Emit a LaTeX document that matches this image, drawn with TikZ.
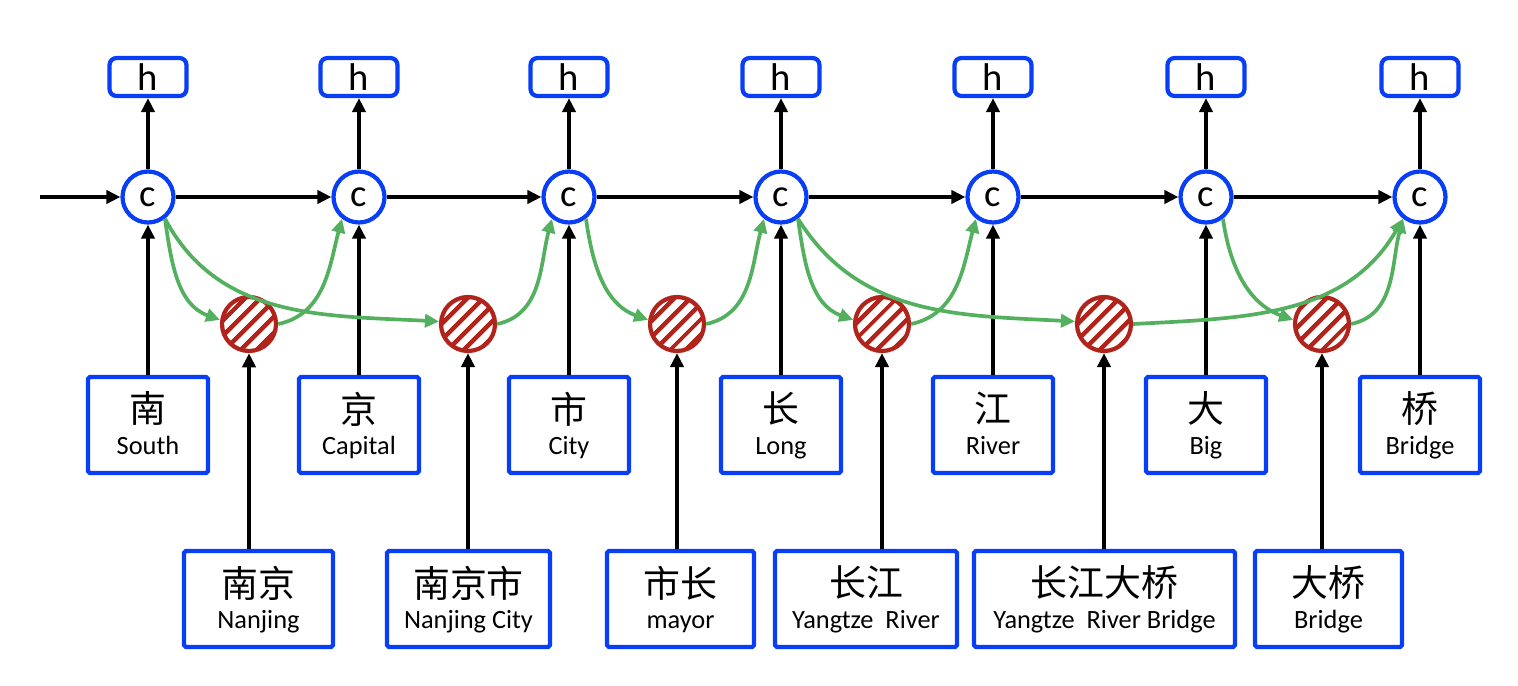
\documentclass[tikz,border=0pt]{standalone}
\usepackage{fontspec}
\setmainfont{Carlito}
\newfontfamily\cjk{Noto Sans CJK SC}
\usetikzlibrary{arrows.meta,patterns.meta}

\definecolor{cellblue}{RGB}{8,62,245}
\definecolor{gatered}{RGB}{176,36,28}
\definecolor{latgreen}{RGB}{82,176,94}

\newcommand{\wordlabel}[2]{{\cjk\fontsize{21}{18}\selectfont #1}\\#2}

\begin{document}
\begin{tikzpicture}[x=0.02cm,y=0.02cm,
  cell/.style={circle,draw=cellblue,line width=2.4pt,minimum size=1.02cm,inner sep=0pt,font=\fontsize{22}{22}\selectfont},
  outbox/.style={draw=cellblue,line width=2.4pt,rounded corners=4pt,minimum width=1.54cm,minimum height=.76cm,inner sep=0pt,font=\fontsize{22}{22}\selectfont},
  wordbox/.style={draw=cellblue,line width=2.4pt,rounded corners=1pt,minimum width=2.4cm,minimum height=1.92cm,inner sep=0pt,align=center,text depth=2pt,font=\fontsize{15}{18}\selectfont},
  gate/.style={circle,draw=gatered,line width=2.4pt,minimum size=1.08cm,inner sep=0pt,
    pattern={Lines[angle=45,distance=6.4pt,line width=2.6pt]},pattern color=gatered},
  flow/.style={line width=2.5pt,-{Triangle[length=8pt,width=7.5pt]}},
  lattice/.style={draw=latgreen,line width=2.1pt,-{Triangle[length=8pt,width=7.5pt]},latgreen}]
\useasboundingbox (0,0) rectangle (1518,-686);

% lattice cells
\node[cell] (c1) at (148,-197) {c};
\node[cell] (c2) at (359,-197) {c};
\node[cell] (c3) at (569,-197) {c};
\node[cell] (c4) at (781,-197) {c};
\node[cell] (c5) at (993,-197) {c};
\node[cell] (c6) at (1206,-197) {c};
\node[cell] (c7) at (1420,-197) {c};

% hidden outputs
\node[outbox] (h1) at (148,-77) {h};
\node[outbox] (h2) at (359,-77) {h};
\node[outbox] (h3) at (569,-77) {h};
\node[outbox] (h4) at (781,-77) {h};
\node[outbox] (h5) at (993,-77) {h};
\node[outbox] (h6) at (1206,-77) {h};
\node[outbox] (h7) at (1420,-77) {h};

% characters
\node[wordbox] (w1) at (148,-425) {\wordlabel{南}{South}};
\node[wordbox] (w2) at (359,-425) {\wordlabel{京}{Capital}};
\node[wordbox] (w3) at (569,-425) {\wordlabel{市}{City}};
\node[wordbox] (w4) at (781,-425) {\wordlabel{长}{Long}};
\node[wordbox] (w5) at (993,-425) {\wordlabel{江}{River}};
\node[wordbox] (w6) at (1206,-425) {\wordlabel{大}{Big}};
\node[wordbox] (w7) at (1420,-425) {\wordlabel{桥}{Bridge}};

% word gates
\node[gate] (g1) at (249,-324) {};
\node[gate] (g2) at (468,-324) {};
\node[gate] (g3) at (677,-324) {};
\node[gate] (g4) at (882,-324) {};
\node[gate] (g5) at (1104,-324) {};
\node[gate] (g6) at (1322,-324) {};

% lexicon words
\node[wordbox,minimum width=2.98cm] (b1) at (258.5,-599) {\wordlabel{南京}{Nanjing}};
\node[wordbox,minimum width=3.26cm] (b2) at (468.5,-599) {\wordlabel{南京市}{Nanjing City}};
\node[wordbox,minimum width=2.94cm] (b3) at (680.5,-599) {\wordlabel{市长}{mayor}};
\node[wordbox,minimum width=3.64cm] (b4) at (866,-599) {\wordlabel{长江}{Yangtze\ \ River}};
\node[wordbox,minimum width=5.22cm] (b5) at (1104.5,-599) {\wordlabel{长江大桥}{Yangtze\ \ River Bridge}};
\node[wordbox,minimum width=2.94cm] (b6) at (1328.5,-599) {\wordlabel{大桥}{Bridge}};

\coordinate (start) at (40,-197);

% chain
\draw[flow] (start) -- (c1);
\draw[flow] (c1) -- (c2);
\draw[flow] (c2) -- (c3);
\draw[flow] (c3) -- (c4);
\draw[flow] (c4) -- (c5);
\draw[flow] (c5) -- (c6);
\draw[flow] (c6) -- (c7);

\draw[flow] (c1) -- (h1);
\draw[flow] (c2) -- (h2);
\draw[flow] (c3) -- (h3);
\draw[flow] (c4) -- (h4);
\draw[flow] (c5) -- (h5);
\draw[flow] (c6) -- (h6);
\draw[flow] (c7) -- (h7);

\draw[flow] (w1) -- (c1);
\draw[flow] (w2) -- (c2);
\draw[flow] (w3) -- (c3);
\draw[flow] (w4) -- (c4);
\draw[flow] (w5) -- (c5);
\draw[flow] (w6) -- (c6);
\draw[flow] (w7) -- (c7);

\draw[flow] (b1.north -| g1) -- (g1);
\draw[flow] (b2.north -| g2) -- (g2);
\draw[flow] (b3.north -| g3) -- (g3);
\draw[flow] (b4.north -| g4) -- (g4);
\draw[flow] (b5.north -| g5) -- (g5);
\draw[flow] (b6.north -| g6) -- (g6);

% word paths
\draw[lattice] (c1.-52) to[out=-82,in=160] (g1.172);
\draw[lattice] (g1.east) to[out=12,in=-105] (c2.-128);
\draw[lattice] (c1.-52) to[out=-62,in=177] (g2.175);
\draw[lattice] (g2.east) to[out=12,in=-105] (c3.-128);
\draw[lattice] (c3.-52) to[out=-82,in=160] (g3.172);
\draw[lattice] (g3.east) to[out=12,in=-105] (c4.-128);
\draw[lattice] (c4.-52) to[out=-82,in=160] (g4.172);
\draw[lattice] (g4.east) to[out=12,in=-105] (c5.-128);
\draw[lattice] (c4.-52) to[out=-58,in=177] (g5.175);
\draw[lattice] (g5.east) to[out=3,in=-120] (c7.-128);
\draw[lattice] (c6.-52) to[out=-82,in=160] (g6.172);
\draw[lattice] (g6.east) to[out=12,in=-105] (c7.-128);
\end{tikzpicture}
\end{document}
